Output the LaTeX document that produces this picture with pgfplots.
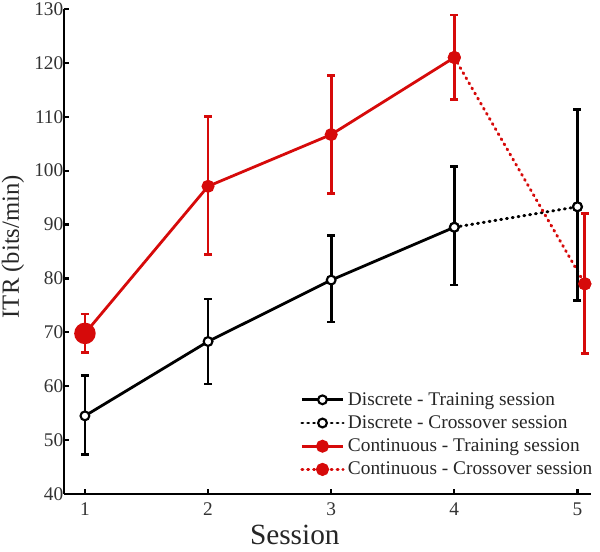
\documentclass[border=0pt]{standalone}
\usepackage{fontspec}
\setmainfont{Liberation Serif}
\usepackage{pgfplots}
\pgfplotsset{compat=1.18}
\definecolor{cred}{RGB}{214,10,10}
\pgfplotstableread{
x y ep em
1 54.5 7.5 7.2
2 68.3 7.9 7.9
3 79.7 8.2 7.8
4 89.5 11.3 10.7
}\discretetrain
\pgfplotstableread{
x y ep em
5 93.3 18.0 17.4
}\discretecross
\pgfplotstableread{
x y ep em
1 69.8 3.6 3.5
2 97.1 13.0 12.7
3 106.7 11.0 10.9
4 121.0 7.9 7.8
}\conttrain
\pgfplotstableread{
x y ep em
5.06 79.0 13.0 12.9
}\contcross
\begin{document}
\begin{tikzpicture}
\useasboundingbox (-48pt,-43.5pt) rectangle (402pt,370.5pt);
\begin{axis}[
  scale only axis, width=395.25pt, height=363.75pt,
  xmin=0.83, xmax=5.11, ymin=40, ymax=130,
  axis x line*=bottom, axis y line*=left,
  axis line style={line width=1.6pt, -},
  xtick={1,2,3,4,5}, xticklabels={1,2,3,4,5},
  ytick={40,50,60,70,80,90,100,110,120,130},
  yticklabels={40,50,60,70,80,90,100,110,120,130},
  major tick length=4pt, tick style={line width=1.6pt, black},
  tick align=inside,
  ticklabel style={font=\fontsize{14.5}{16}\selectfont, text=black!80},
  xticklabel style={yshift=-3pt},
  yticklabel style={xshift=3pt},
  xlabel={Session}, ylabel={ITR (bits/min)},
  x label style={font=\fontsize{22}{24}\selectfont, text=black!85, at={(axis description cs:0.438,-0.0845)}, anchor=center},
  y label style={font=\fontsize{18.5}{20}\selectfont, text=black!85, at={(axis description cs:-0.097,0.51)}, anchor=center},
  legend style={at={(axis description cs:0.448,0.028)}, anchor=south west, draw=none, fill=none,
    font=\fontsize{14.5}{15}\selectfont, text=black!85, row sep=1.3pt, inner sep=0pt,
    nodes={inner sep=2.5pt}},
  legend cell align=left,
  legend image code/.code={\draw[mark repeat=2,mark phase=2] plot coordinates {(0pt,0pt)(15.5pt,0pt)(31pt,0pt)};},
  dstyle/.style={black, line width=2.1pt, mark=*, mark size=3.3pt, mark options={solid, fill=white, draw=black, line width=1.6pt}},
  cstyle/.style={cred, line width=2.1pt, mark=*, mark size=3.8pt, mark options={solid, fill=cred, draw=cred}},
  dotstyle/.style={line width=2.2pt, dash pattern=on 0.8pt off 3.6pt, line cap=round},
  ebar/.style={error bars/.cd, y dir=both, y explicit,
    error bar style={line width=2.1pt, solid},
    error mark options={rotate=90, mark size=3pt, line width=2.1pt, solid}},
]
\addplot[dstyle, ebar] table[x=x, y=y, y error plus=ep, y error minus=em] {\discretetrain};
\addlegendentry{Discrete - Training session}
\addplot[dstyle, dotstyle] coordinates {(4,89.5) (5,93.3)};
\addlegendentry{Discrete - Crossover session}
\addplot[cstyle, ebar] table[x=x, y=y, y error plus=ep, y error minus=em] {\conttrain};
\addlegendentry{Continuous - Training session}
\addplot[cstyle, dotstyle] coordinates {(4,121.0) (5.06,79.0)};
\addlegendentry{Continuous - Crossover session}
\addplot[forget plot, dstyle, only marks, ebar] table[x=x, y=y, y error plus=ep, y error minus=em] {\discretecross};
\addplot[forget plot, cstyle, only marks, ebar] table[x=x, y=y, y error plus=ep, y error minus=em] {\contcross};
\addplot[forget plot, cstyle, only marks, mark size=7pt] coordinates {(1,69.8)};
\end{axis}
\end{tikzpicture}
\end{document}
